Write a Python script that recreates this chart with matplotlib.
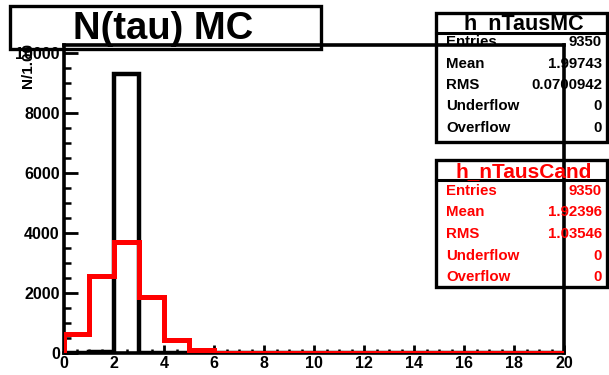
import numpy as np
import matplotlib
matplotlib.use("Agg")
from matplotlib import pyplot as plt
from matplotlib.patches import Rectangle
from matplotlib.ticker import MultipleLocator

plt.rcParams['font.family'] = ['Liberation Sans', 'DejaVu Sans']
plt.rcParams['font.weight'] = 'bold'

# bin edges 0..20, one unit wide
edges = np.arange(0, 21)
# N(tau) from MC truth
mc_counts = [0, 35, 9304, 11, 0, 0, 0, 0, 0, 0, 0, 0, 0, 0, 0, 0, 0, 0, 0, 0]
# N(tau) from candidates
cand_counts = [640, 2570, 3710, 1880, 440, 95, 10, 3, 1, 0, 0, 0, 0, 0, 0, 0, 0, 0, 0, 0]

title = "N(tau) MC"
ylabel = "N/1.00"
stats_labels = ["Entries", "Mean", "RMS", "Underflow", "Overflow"]
mc_stats = ["9350", "1.99743", "0.0700942", "0", "0"]
cand_stats = ["9350", "1.92396", "1.03546", "0", "0"]

W, H = 609, 375
fig = plt.figure(figsize=(W / 100, H / 100), dpi=100)

def fx(px):
    return px / W

def fy(py):
    return 1 - py / H

ax = fig.add_axes([fx(64), fy(353), fx(564) - fx(64), fy(45) - fy(353)])
ax.stairs(mc_counts, edges, color='black', linewidth=3.2, zorder=2)
ax.stairs(cand_counts, edges, color='red', linewidth=3.6, zorder=3)

ax.set_xlim(0, 20)
ax.set_ylim(0, 10270)
ax.xaxis.set_major_locator(MultipleLocator(2))
ax.xaxis.set_minor_locator(MultipleLocator(0.5))
ax.yaxis.set_major_locator(MultipleLocator(2000))
ax.yaxis.set_minor_locator(MultipleLocator(500))
ax.tick_params(axis='x', which='major', direction='in', length=6, width=2.0, pad=2, labelsize=11.5)
ax.tick_params(axis='x', which='minor', direction='in', length=3, width=1.8)
ax.tick_params(axis='y', which='major', direction='in', length=10, width=2.0, pad=3, labelsize=11.5)
ax.tick_params(axis='y', which='minor', direction='in', length=5, width=1.8)
for lab in ax.get_xticklabels() + ax.get_yticklabels():
    lab.set_fontweight('bold')
for sp in ax.spines.values():
    sp.set_linewidth(2.6)

fig.text(fx(28), fy(43), ylabel, rotation=90, ha='center', va='top',
         fontsize=11, fontweight='bold')

# title box
fig.add_artist(Rectangle((fx(10), fy(49)), fx(321) - fx(10), fy(6) - fy(49),
                         transform=fig.transFigure, fill=False, lw=2.4, ec='black'))
fig.text(fx(163), fy(29), title, ha='center', va='center', fontsize=27.5, fontweight='bold')

def stats_box(top, bottom, sep, name, name_size, base, row0, vals, color):
    fig.add_artist(Rectangle((fx(436), fy(bottom)), fx(607) - fx(436), fy(top) - fy(bottom),
                             transform=fig.transFigure, fill=False, lw=2.4, ec='black'))
    fig.add_artist(plt.Line2D([fx(436), fx(607)], [fy(sep), fy(sep)],
                              transform=fig.transFigure, lw=2.2, color='black'))
    fig.text(fx(524), fy(base), name, ha='center', va='baseline',
             fontsize=name_size, fontweight='bold', color=color)
    for i, (lab, v) in enumerate(zip(stats_labels, vals)):
        y = fy(row0 + i * 21.5)
        fig.text(fx(446), y, lab, ha='left', va='center', fontsize=10.8,
                 fontweight='bold', color=color)
        fig.text(fx(602), y, v, ha='right', va='center', fontsize=10.8,
                 fontweight='bold', color=color)

stats_box(13, 142, 33, "h_nTausMC", 15.5, 29, 42, mc_stats, 'black')
stats_box(160, 287, 180, "h_nTausCand", 15, 177, 191, cand_stats, 'red')

fig.savefig("out.png", dpi=100)
